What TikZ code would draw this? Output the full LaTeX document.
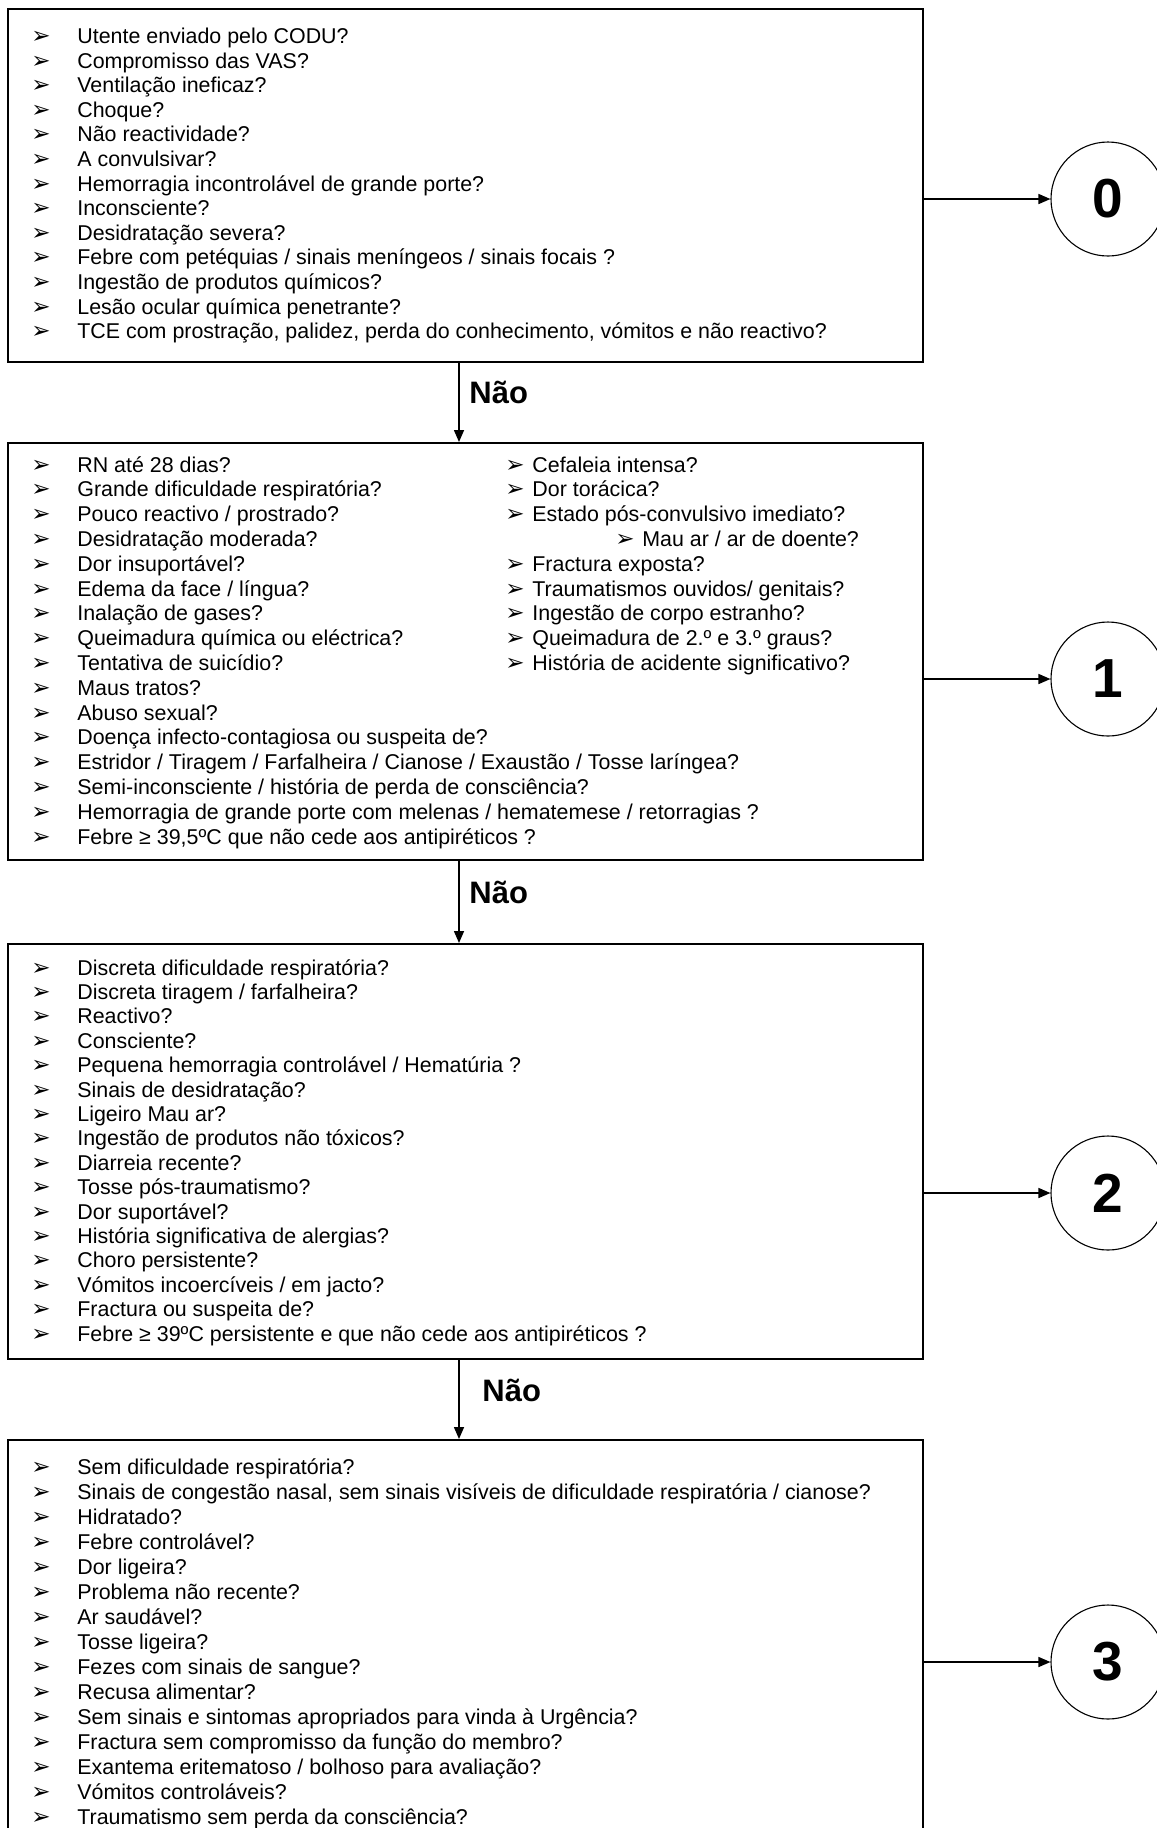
\documentclass[tikz,border=0pt]{standalone}
\usepackage{fontspec}
\setmainfont{Liberation Sans}
\newfontfamily\dejavu{DejaVu Sans}
\usetikzlibrary{arrows.meta,fit}
\newcommand{\bul}{\makebox[23pt][l]{\dejavu\fontsize{11.5}{11}\selectfont ➢}}
\newcommand{\bulr}{\makebox[13.5pt][l]{\dejavu\fontsize{11.5}{11}\selectfont ➢}}
\begin{document}
\begin{tikzpicture}[x=0.5pt,y=-0.5pt,
  box/.style={draw, line width=1pt, inner sep=0pt},
  item/.style={anchor=base west, inner sep=0pt, font=\fontsize{10.7}{12}\selectfont},
  level/.style={circle, draw, line width=0.55pt, minimum size=57pt, inner sep=0pt, font=\fontsize{27.5}{27.5}\selectfont\bfseries},
  nao/.style={anchor=west, inner sep=0pt, font=\fontsize{15.5}{15.5}\selectfont\bfseries},
  arr/.style={line width=0.75pt, -{Triangle[length=6pt,width=5pt]}}]
\useasboundingbox (0,0) rectangle (1157,1828);
\clip (0,0) rectangle (1157,1828);

% boxes
\node[box, fit={(8,9) (923,362)}] (b0) {};
\node[box, fit={(8,443) (923,860)}] (b1) {};
\node[box, fit={(8,944) (923,1359)}] (b2) {};
\node[box, fit={(8,1440) (923,1900)}] (b3) {};

% circles
\node[level] (c0) at (1108,199) {0};
\node[level] (c1) at (1108,679) {1};
\node[level] (c2) at (1108,1193) {2};
\node[level] (c3) at (1108,1662) {3};

% box 0 items
\foreach \t [count=\i from 0] in {
 {Utente enviado pelo CODU?},
 {Compromisso das VAS?},
 {Ventilação ineficaz?},
 {Choque?},
 {Não reactividade?},
 {A convulsivar?},
 {Hemorragia incontrolável de grande porte?},
 {Inconsciente?},
 {Desidratação severa?},
 {Febre com petéquias / sinais meníngeos / sinais focais ?},
 {Ingestão de produtos químicos?},
 {Lesão ocular química penetrante?},
 {TCE com prostração, palidez, perda do conhecimento, vómitos e não reactivo?}}
 \node[item] (l0-\i) at (31, 43.5+24.6*\i) {\bul\t};

% box 1 left items
\foreach \t [count=\i from 0] in {
 {RN até 28 dias?},
 {Grande dificuldade respiratória?},
 {Pouco reactivo / prostrado?},
 {Desidratação moderada?},
 {Dor insuportável?},
 {Edema da face / língua?},
 {Inalação de gases?},
 {Queimadura química ou eléctrica?},
 {Tentativa de suicídio?},
 {Maus tratos?},
 {Abuso sexual?},
 {Doença infecto-contagiosa ou suspeita de?},
 {Estridor / Tiragem / Farfalheira / Cianose / Exaustão / Tosse laríngea?},
 {Semi-inconsciente / história de perda de consciência?},
 {Hemorragia de grande porte com melenas / hematemese / retorragias ?},
 {Febre ≥ 39,5ºC que não cede aos antipiréticos ?}}
 \node[item] (l1-\i) at (31, 472+24.8*\i) {\bul\t};

% box 1 right items
\foreach \t/\xx [count=\i from 0] in {
 {Cefaleia intensa?}/505,
 {Dor torácica?}/505,
 {Estado pós-convulsivo imediato?}/505,
 {Mau ar / ar de doente?}/615,
 {Fractura exposta?}/505,
 {Traumatismos ouvidos/ genitais?}/505,
 {Ingestão de corpo estranho?}/505,
 {Queimadura de 2.º e 3.º graus?}/505,
 {História de acidente significativo?}/505}
 \node[item] (r1-\i) at (\xx, 472+24.8*\i) {\bulr\t};

% box 2 items
\foreach \t [count=\i from 0] in {
 {Discreta dificuldade respiratória?},
 {Discreta tiragem / farfalheira?},
 {Reactivo?},
 {Consciente?},
 {Pequena hemorragia controlável /  Hematúria ?},
 {Sinais de desidratação?},
 {Ligeiro Mau ar?},
 {Ingestão de produtos não tóxicos?},
 {Diarreia recente?},
 {Tosse pós-traumatismo?},
 {Dor suportável?},
 {História significativa de alergias?},
 {Choro persistente?},
 {Vómitos incoercíveis / em jacto?},
 {Fractura ou suspeita de?},
 {Febre ≥ 39ºC persistente e que não cede aos antipiréticos ?}}
 \node[item] (l2-\i) at (31, 975+24.4*\i) {\bul\t};

% box 3 items
\foreach \t [count=\i from 0] in {
 {Sem dificuldade respiratória?},
 {Sinais de congestão nasal, sem sinais visíveis de dificuldade respiratória / cianose?},
 {Hidratado?},
 {Febre controlável?},
 {Dor ligeira?},
 {Problema não recente?},
 {Ar saudável?},
 {Tosse ligeira?},
 {Fezes com sinais de sangue?},
 {Recusa alimentar?},
 {Sem sinais e sintomas apropriados para vinda à Urgência?},
 {Fractura sem compromisso da função do membro?},
 {Exantema eritematoso / bolhoso para avaliação?},
 {Vómitos controláveis?},
 {Traumatismo sem perda da consciência?}}
 \node[item] (l3-\i) at (31, 1474+25*\i) {\bul\t};

% vertical connectors
\coordinate (ax) at (459,0);
\draw[arr] (b0.south -| ax) -- (b1.north -| ax);
\draw[arr] (b1.south -| ax) -- (b2.north -| ax);
\draw[arr] (b2.south -| ax) -- (b3.north -| ax);
\node[nao] (n0) at (469,392) {Não};
\node[nao] (n1) at (469,892) {Não};
\node[nao] (n2) at (482,1390) {Não};

% horizontal connectors
\draw[arr] (c0 -| b0.east) -- (c0.west);
\draw[arr] (c1 -| b1.east) -- (c1.west);
\draw[arr] (c2 -| b2.east) -- (c2.west);
\draw[arr] (c3 -| b3.east) -- (c3.west);
\end{tikzpicture}
\end{document}
